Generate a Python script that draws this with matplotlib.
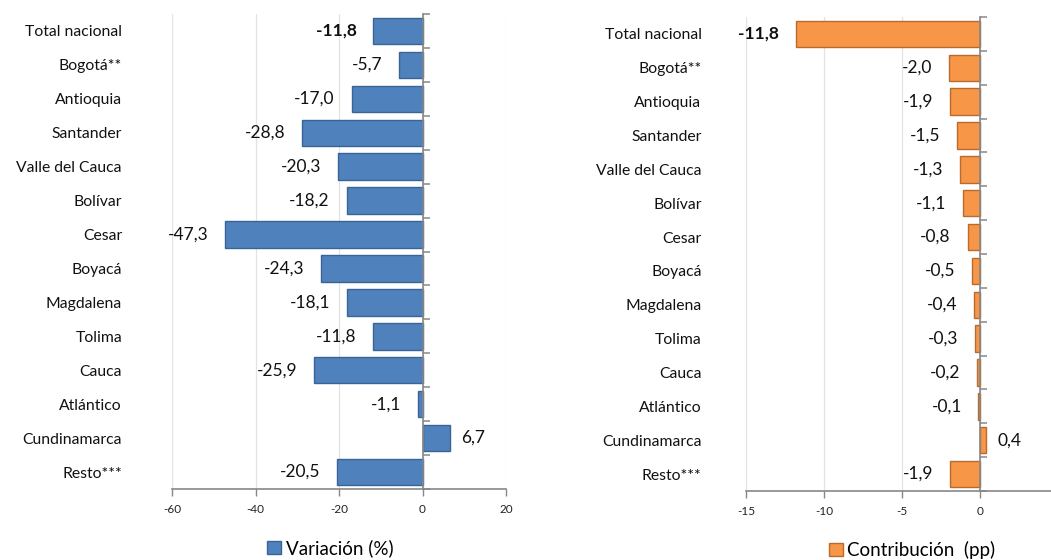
import matplotlib
matplotlib.use("Agg")
import matplotlib.pyplot as plt
import numpy as np

plt.rcParams['font.family'] = ['Lato', 'DejaVu Sans']

categories = ["Total nacional", "Bogotá**", "Antioquia", "Santander", "Valle del Cauca",
              "Bolívar", "Cesar", "Boyacá", "Magdalena", "Tolima", "Cauca", "Atlántico",
              "Cundinamarca", "Resto***"]
variacion = [-11.8, -5.7, -17.0, -28.8, -20.3, -18.2, -47.3, -24.3, -18.1, -11.8, -25.9, -1.1, 6.7, -20.5]
contribucion = [-11.8, -2.0, -1.9, -1.5, -1.3, -1.1, -0.8, -0.5, -0.4, -0.3, -0.2, -0.1, 0.4, -1.9]
left_ticks = [-60, -40, -20, 0, 20]
right_ticks = [-15, -10, -5, 0, 5]
right_tick_labels = ["-15", "-10", "-5", "0", ""]

fig = plt.figure(figsize=(10.51, 5.6), dpi=100)
W, H = 1051, 560

def make_ax(rect, vals, xlim, ticks, ticklabels, color, edge, legend_label, legend_xy, label_pad):
    ax = fig.add_axes(rect)
    y = np.arange(len(vals))
    ax.barh(y, vals, height=0.78, color=color, edgecolor=edge, linewidth=1.0, zorder=3,
            label=legend_label)
    ax.set_ylim(len(vals) - 0.5, -0.5)
    ax.set_xlim(*xlim)
    ax.set_xticks(ticks)
    ax.set_xticklabels(ticklabels)
    ax.tick_params(axis='x', labelsize=8.5, colors='#222222', length=5, width=1, color='#878787', pad=6)
    ax.set_yticks(y)
    ax.set_yticklabels(categories)
    ax.tick_params(axis='y', length=0, labelsize=11.3, pad=label_pad, labelcolor='#111111')
    ax.grid(axis='x', color='#E3E3E3', linewidth=0.9, zorder=0)
    for s in ['top', 'right', 'left']:
        ax.spines[s].set_visible(False)
    ax.spines['bottom'].set_color('#878787')
    ax.spines['bottom'].set_linewidth(1.2)
    # category axis at zero
    loc = (0 - xlim[0]) / (xlim[1] - xlim[0])
    sec = ax.secondary_yaxis(loc)
    sec.set_zorder(5)
    sec.set_yticks(np.arange(len(vals) + 1) - 0.5)
    sec.set_yticklabels([])
    sec.tick_params(axis='y', direction='out', length=5, width=1.1, color='#878787')
    for sp in sec.spines.values():
        sp.set_color('#878787')
        sp.set_linewidth(1.2)
    for i, v in enumerate(vals):
        txt = f"{v:.1f}".replace('.', ',')
        weight = 'bold' if i == 0 else 'normal'
        if v < 0:
            ax.annotate(txt, (v, i), xytext=(-12, 0), textcoords='offset points',
                        ha='right', va='center', fontsize=12.5, fontweight=weight, color='#111111')
        else:
            ax.annotate(txt, (v, i), xytext=(8, 0), textcoords='offset points',
                        ha='left', va='center', fontsize=12.5, fontweight=weight, color='#111111')
    leg = ax.legend(loc='center', bbox_to_anchor=legend_xy, bbox_transform=fig.transFigure,
                    frameon=False, fontsize=13.5, handlelength=0.75, handleheight=0.75,
                    handletextpad=0.25, borderpad=0)
    return ax

ax1 = make_ax([172 / W, (H - 489) / H, 334 / W, 475 / H], variacion, (-60, 20), left_ticks,
              [str(t) for t in left_ticks], '#4F81BD', '#3A6496', 'Variación (%)',
              (330 / W, (H - 548) / H), 36)
ax2 = make_ax([746 / W, (H - 491) / H, 312 / W, 474 / H], contribucion, (-15, 5), right_ticks,
              right_tick_labels, '#F79646', '#B86B2C', 'Contribución  (pp)',
              (912 / W, (H - 550) / H), 32)

fig.savefig("out.png", dpi=100)
